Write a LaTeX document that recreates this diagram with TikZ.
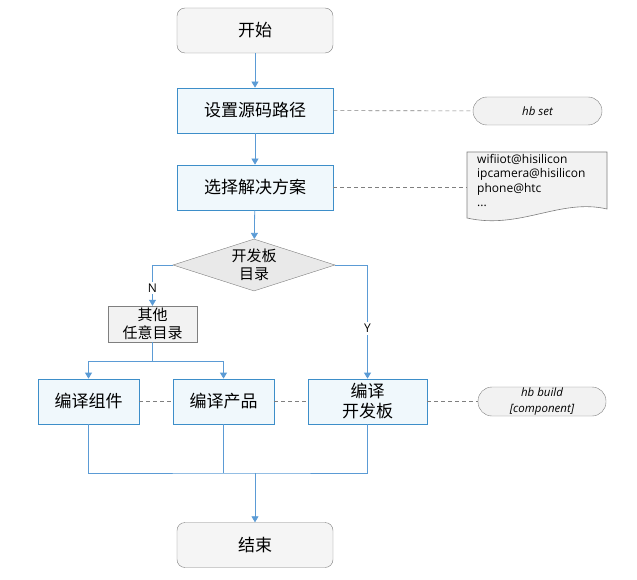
\documentclass[tikz,border=0pt]{standalone}
\usepackage{fontspec}
\setmainfont{Noto Sans CJK SC}
\newfontfamily\latinfont{Open Sans}
\usetikzlibrary{arrows.meta,shapes.geometric}
\definecolor{boxblue}{HTML}{3D8EC9}
\definecolor{boxfill}{HTML}{F0F8FC}
\definecolor{linkblue}{HTML}{5B9BD5}
\definecolor{termfill}{HTML}{F5F5F5}
\definecolor{termdraw}{HTML}{7F7F7F}
\definecolor{decfill}{HTML}{E9E9E9}
\definecolor{notefill}{HTML}{F2F2F2}
\begin{document}
\begin{tikzpicture}[x=1pt,y=-1pt,
	stepbox/.style={draw=boxblue,fill=boxfill,line width=0.8pt,minimum height=45pt,inner sep=0pt,align=center,font=\fontsize{17}{20}\selectfont},
	term/.style={draw=termdraw,fill=termfill,rounded corners=8pt,minimum width=156pt,minimum height=45pt,inner sep=0pt,font=\fontsize{17}{20}\selectfont},
	note/.style={draw=termdraw,fill=notefill,rounded corners=14pt,inner sep=0pt,align=center,font=\latinfont\itshape\fontsize{11.5}{15.5}\selectfont},
	link/.style={draw=linkblue,line width=0.8pt},
	arr/.style={link,-{Triangle[width=7pt,length=6pt]}},
	hint/.style={draw=termdraw,dashed,dash pattern=on 4pt off 3pt,line width=0.6pt},
	yn/.style={fill=white,font=\latinfont\fontsize{12}{14}\selectfont,inner sep=2pt}]
	\useasboundingbox (0,0) rectangle (637,580);
	\node[term] (start) at (255,30.5) {开始};
	\node[stepbox,minimum width=156pt] (setpath) at (255,110.5) {设置源码路径};
	\node[stepbox,minimum width=156pt] (choose) at (255,187.5) {选择解决方案};
	\node[draw=termdraw,fill=decfill,shape=diamond,aspect=3.1,minimum width=162pt,minimum height=52pt,inner sep=0pt,align=center,font=\fontsize{15}{17.5}\selectfont] (isboard) at (254,265) {开发板\\目录};
	\node[draw=termdraw,fill=notefill,minimum width=89pt,minimum height=36pt,inner sep=0pt,align=center,font=\fontsize{15}{18}\selectfont] (other) at (152.5,324) {其他\\任意目录};
	\node[stepbox,minimum width=101pt] (comp) at (88.5,401.5) {编译组件};
	\node[stepbox,minimum width=101pt] (prod) at (223.5,401.5) {编译产品};
	\node[stepbox,minimum width=119pt] (board) at (367.5,401.5) {编译\\开发板};
	\node[term] (finish) at (255,545) {结束};
	\node[note,minimum width=129pt,minimum height=28pt] (hbset) at (537.5,111) {hb set};
	\node[note,minimum width=128pt,minimum height=29pt] (hbbuild) at (542,401.5) {hb build\\{}[component]};
	% list of solutions
	\filldraw[draw=termdraw,fill=notefill,line width=0.6pt] (467,152) -- (607,152) -- (607,209) .. controls (560,198) and (520,230) .. (467,218) -- cycle;
	\node[anchor=north west,align=left,inner sep=0pt,font=\latinfont\fontsize{12}{14.5}\selectfont] (boards) at (477,154) {wifiiot@hisilicon\\ipcamera@hisilicon\\phone@htc\\...};
	\coordinate (doc) at (467,187.5);
	\coordinate (split) at (152.5,361);
	\coordinate (merge) at (255,473);

	\draw[arr] (start) -- (setpath);
	\draw[arr] (setpath) -- (choose);
	\draw[arr] (choose) -- (isboard);
	\draw[arr] (isboard.west) -| node[yn,pos=0.78]{N} (other.north);
	\draw[arr] (isboard.east) -| node[yn,pos=0.78]{Y} (board.north);
	\draw[link] (other) -- (split);
	\draw[arr] (split) -| (comp.north);
	\draw[arr] (split) -| (prod.north);
	\draw[link] (comp.south) |- (merge) -| (board.south);
	\draw[link] (prod.south) -- (prod.south |- merge);
	\draw[arr] (merge) -- (finish);

	\draw[hint] (setpath) -- (hbset);
	\draw[hint] (choose) -- (doc);
	\draw[hint] (comp) -- (prod);
	\draw[hint] (prod) -- (board);
	\draw[hint] (board) -- (hbbuild);
\end{tikzpicture}
\end{document}
